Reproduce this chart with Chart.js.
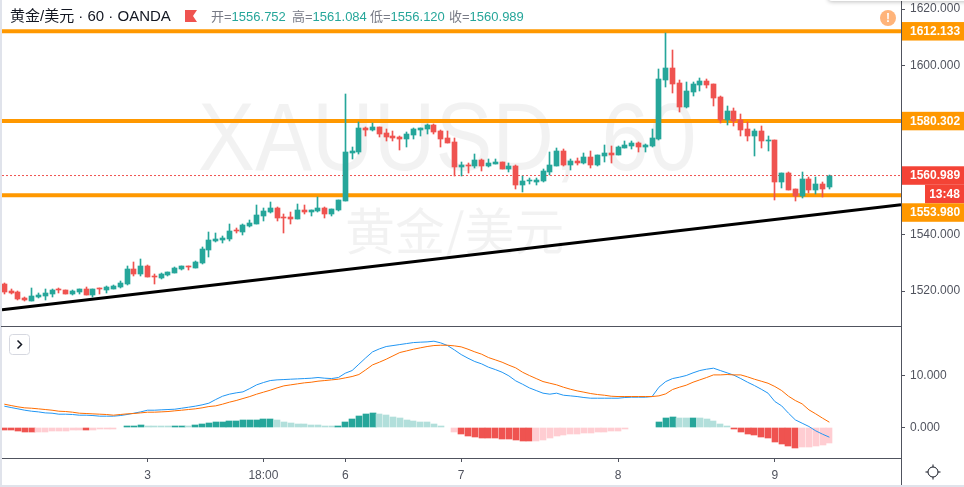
<!DOCTYPE html>
<html>
<head>
<meta charset="utf-8">
<title>XAUUSD 60</title>
<script src="https://cdn.jsdelivr.net/npm/chart.js@4"></script>
<style>
  html, body { margin: 0; padding: 0; background: #fff; }
  body { width: 964px; height: 487px; position: relative; overflow: hidden; font-family: "Liberation Sans", "Noto Sans CJK SC", sans-serif; }
  canvas { position: absolute; left: 0; }
  .abs { position: absolute; white-space: nowrap; }
  .mark { color: rgba(0, 0, 0, 0.05); line-height: 1; }
  .ohlc { top: 9px; font-size: 13px; color: #787b86; line-height: 15px; }
  .ohlc b { font-weight: normal; color: #26a69a; }
</style>
</head>
<body>
<div class="abs mark" style="left:198px;top:89px;font-size:96px;transform:scaleX(0.89);transform-origin:left top;">XAUUSD, 60</div>
<div class="abs mark" style="left:345px;top:203px;font-size:50px;font-family:'Noto Sans CJK SC';">黄金/美元</div>

<canvas id="priceChart" width="964" height="327" style="top:0"></canvas>
<canvas id="macdChart" width="964" height="160" style="top:327px"></canvas>

<div class="abs" style="left:0;top:0;width:2px;height:487px;background:#e0e3eb"></div>
<div class="abs" style="left:0;top:485px;width:964px;height:2px;background:#e0e3eb"></div>
<div class="abs" style="left:1px;top:326px;width:901px;height:1px;background:#50535e"></div>
<div class="abs" style="left:901px;top:458px;width:1px;height:27px;background:#50535e"></div>
<div class="abs" style="left:828px;top:-9px;width:150px;height:10px;background:#fff;border-radius:4px;box-shadow:0 1px 4px rgba(0,0,0,0.25)"></div>

<div class="abs" style="left:10px;top:7px;font-size:15px;line-height:18px;color:#131722;">黄金/美元 · 60 · OANDA</div>
<svg class="abs" style="left:185px;top:10px" width="13" height="13"><polygon points="0,0 12,0 8,6 12,12 0,12" fill="#ef5350"/></svg>
<div class="abs ohlc" style="left:211px">开=<b>1556.752</b></div>
<div class="abs ohlc" style="left:292px">高=<b>1561.084</b></div>
<div class="abs ohlc" style="left:370px">低=<b>1556.120</b></div>
<div class="abs ohlc" style="left:449px">收=<b>1560.989</b></div>

<div class="abs" style="left:880px;top:10px;width:16px;height:16px;border-radius:50%;background:#ffb47a;color:#fff;font-size:12px;font-weight:bold;line-height:16px;text-align:center;">!</div>

<svg class="abs" style="left:9px;top:334px" width="21" height="21">
  <rect x="0.5" y="0.5" width="20" height="20" rx="3" fill="#fff" stroke="#d6d8e0"/>
  <path d="M8.5 6.5 L12.5 10.5 L8.5 14.5" fill="none" stroke="#131722" stroke-width="1.5"/>
</svg>
<svg class="abs" style="left:925px;top:464px" width="16" height="16">
  <circle cx="8" cy="8" r="5" fill="none" stroke="#131722" stroke-width="1"/>
  <path d="M8 0.5V3M8 13V15.5M0.5 8H3M13 8H15.5" stroke="#131722" stroke-width="1"/>
</svg>

<script>
// Price candles
const opens = [
  1522.6,1520.2,1519.8,1517.7,1516.6,1518.0,1518.4,1519.1,1520.6,1520.5,
  1519.1,1519.8,1520.9,1518.7,1521.0,1520.5,1520.9,1521.6,1522.6,1528.0,
  1526.2,1529.0,1525.5,1524.8,1525.8,1526.5,1528.0,1529.0,1528.3,1530.1,
  1534.7,1537.9,1538.3,1538.6,1541.6,1541.1,1543.2,1543.9,1546.7,1548.1,
  1549.5,1546.4,1546.4,1545.7,1548.8,1548.2,1548.5,1549.5,1547.4,1548.8,
  1552.0,1569.0,1569.4,1577.8,1577.1,1578.2,1576.1,1575.0,1574.7,1574.0,
  1575.4,1577.1,1577.5,1578.9,1576.8,1574.3,1572.9,1564.1,1564.9,1564.4,
  1566.5,1564.4,1565.1,1565.8,1563.4,1564.4,1557.7,1559.0,1558.7,1559.1,
  1562.3,1564.4,1569.7,1564.8,1566.2,1565.5,1567.6,1564.8,1568.0,1569.0,
  1568.3,1570.8,1571.5,1572.6,1571.1,1571.5,1573.9,1594.8,1599.1,1593.8,
  1585.3,1590.6,1593.1,1594.5,1593.4,1588.8,1580.7,1583.9,1580.7,1577.5,
  1575.0,1576.8,1573.4,1573.6,1558.8,1561.9,1556.3,1553.8,1559.8,1555.9,1558.0,1556.752
];
const highs = [
  1522.9,1520.9,1520.2,1518.0,1521.2,1519.5,1520.9,1520.9,1521.2,1520.5,
  1520.5,1520.9,1521.6,1520.9,1521.2,1521.7,1522.2,1523.7,1529.0,1530.4,
  1531.5,1529.4,1526.2,1526.5,1526.9,1528.7,1529.0,1529.0,1530.8,1535.7,
  1541.1,1540.7,1539.6,1543.9,1542.5,1543.9,1545.3,1550.6,1549.5,1551.7,
  1549.9,1547.4,1548.1,1551.0,1550.6,1548.8,1553.4,1549.9,1549.2,1552.4,
  1589.9,1571.1,1580.0,1578.2,1579.6,1578.2,1577.5,1576.8,1575.0,1576.5,
  1577.9,1577.9,1579.3,1579.3,1577.2,1576.8,1574.3,1565.8,1565.5,1568.7,
  1566.9,1566.9,1566.9,1565.8,1565.5,1564.8,1560.9,1560.2,1560.2,1563.4,
  1569.4,1570.8,1570.4,1566.9,1567.2,1569.0,1569.7,1568.3,1571.8,1571.5,
  1571.5,1573.2,1573.2,1572.9,1572.2,1577.5,1598.7,1611.5,1605.5,1594.8,
  1594.1,1594.1,1595.5,1595.2,1593.4,1589.2,1585.7,1584.9,1582.8,1580.0,
  1577.5,1578.5,1575.0,1573.6,1561.9,1562.3,1556.3,1562.3,1560.5,1560.5,1558.8,1561.084
];
const lows = [
  1519.1,1519.0,1517.0,1516.6,1516.6,1517.7,1517.0,1518.0,1519.5,1519.1,
  1518.7,1519.1,1518.7,1518.0,1519.1,1519.5,1520.9,1521.2,1522.3,1525.5,
  1525.5,1524.9,1522.6,1524.4,1525.2,1526.5,1527.6,1527.6,1528.3,1529.7,
  1532.2,1537.5,1537.2,1537.9,1540.7,1540.0,1542.8,1543.9,1544.9,1547.8,
  1544.9,1540.7,1543.9,1545.7,1547.4,1546.7,1548.1,1546.0,1546.7,1548.5,
  1552.0,1566.9,1568.6,1575.0,1576.8,1574.7,1573.2,1573.2,1570.1,1571.1,
  1574.0,1575.0,1575.7,1575.7,1571.1,1572.6,1560.9,1560.9,1561.9,1563.7,
  1562.6,1564.1,1565.1,1563.4,1562.3,1556.3,1555.2,1558.0,1557.7,1558.7,
  1561.2,1564.4,1564.4,1563.0,1564.8,1565.1,1563.7,1564.4,1565.8,1565.5,
  1568.3,1570.8,1570.4,1569.4,1569.4,1571.1,1573.6,1592.4,1590.2,1583.5,
  1584.9,1589.2,1590.9,1592.0,1585.7,1579.6,1578.9,1578.5,1575.0,1573.2,
  1567.9,1570.8,1569.7,1552.4,1556.6,1555.9,1552.0,1553.1,1554.8,1554.5,1553.4,1556.120
];
const closes = [
  1519.8,1519.3,1517.3,1516.7,1518.4,1518.7,1519.5,1520.5,1520.3,1519.1,
  1520.2,1520.8,1518.7,1520.9,1520.8,1521.3,1521.8,1523.0,1528.0,1526.2,
  1529.0,1525.1,1524.9,1526.2,1526.9,1528.3,1529.0,1528.4,1530.4,1535.0,
  1538.2,1538.6,1539.0,1541.4,1541.3,1543.5,1544.2,1547.1,1548.5,1549.5,
  1546.0,1546.0,1545.7,1548.8,1548.2,1548.8,1549.5,1547.4,1549.2,1552.4,
  1569.4,1569.7,1577.8,1577.3,1578.2,1575.7,1574.7,1574.3,1574.0,1575.7,
  1577.5,1577.9,1578.9,1576.5,1574.0,1572.6,1564.1,1564.8,1564.5,1566.5,
  1564.4,1565.5,1565.8,1563.4,1564.4,1557.7,1559.1,1559.3,1559.4,1562.6,
  1564.8,1569.7,1564.8,1566.2,1565.5,1567.6,1564.8,1568.3,1569.0,1568.3,
  1571.1,1571.8,1572.7,1571.1,1571.8,1574.3,1595.2,1599.1,1593.4,1585.3,
  1590.9,1593.4,1594.5,1593.1,1588.5,1580.7,1583.9,1580.3,1577.1,1575.0,
  1576.8,1573.2,1573.6,1558.8,1561.9,1555.9,1553.8,1559.8,1555.9,1558.0,1556.3,1560.989
];

// MACD pane
const macdLine = [
  4.09,3.83,3.58,3.32,3.13,3.0,2.81,2.75,2.56,2.56,
  2.5,2.37,2.37,2.3,2.18,2.18,2.18,2.3,2.5,2.75,
  3.0,3.32,3.32,3.39,3.45,3.51,3.7,3.89,4.09,4.34,
  4.66,5.36,5.99,6.38,6.63,6.82,7.46,8.16,8.6,8.98,
  9.11,9.17,9.24,9.3,9.36,9.43,9.56,9.43,9.36,9.56,
  10.38,10.89,12.1,13.31,14.45,15.02,15.47,15.66,15.85,16.04,
  16.23,16.3,16.36,16.49,16.17,15.66,14.83,13.94,13.24,12.61,
  12.16,11.53,11.08,10.57,9.87,8.92,8.28,7.58,7.07,6.57,
  6.38,6.57,6.18,6.06,5.93,5.74,5.61,5.61,5.61,5.61,
  5.61,5.74,5.8,5.8,5.8,5.93,7.71,8.79,9.36,9.62,
  9.94,10.45,10.89,11.15,11.34,10.89,10.45,10.0,9.36,8.66,
  8.03,7.33,6.57,4.98,4.15,2.75,1.48,0.84,0.21,-0.62,-1.26,-1.83
];
const signalLine = [
  4.47,4.21,3.96,3.77,3.7,3.58,3.45,3.32,3.13,3.07,
  2.94,2.75,2.69,2.62,2.56,2.5,2.37,2.5,2.62,2.69,
  2.81,2.94,2.94,3.0,3.07,3.2,3.32,3.45,3.58,3.77,
  4.02,4.15,4.47,4.85,5.17,5.55,5.93,6.38,6.76,7.14,
  7.58,7.97,8.16,8.35,8.54,8.66,8.86,8.98,9.11,9.24,
  9.49,9.75,10.13,11.02,11.97,12.48,13.05,13.69,14.33,14.64,
  14.96,15.22,15.47,15.66,15.72,15.72,15.6,15.41,14.96,14.45,
  14.01,13.37,12.93,12.48,11.91,11.4,10.57,9.94,9.36,8.79,
  8.47,8.16,7.71,7.33,7.01,6.76,6.5,6.31,6.18,5.99,
  5.93,5.93,5.93,5.93,5.93,5.93,6.06,6.44,7.27,7.71,
  8.09,8.66,9.11,9.56,10.06,10.06,10.13,10.06,10.06,9.68,
  9.24,8.86,8.47,7.84,7.07,5.99,5.17,4.53,3.39,2.62,1.8,1.03
];
const histogram = [
  -0.44,-0.46,-0.64,-0.76,-0.77,-0.76,-0.75,-0.66,-0.64,-0.62,
  -0.46,-0.44,-0.45,-0.38,-0.32,-0.25,-0.19,null,0.13,0.32,
  0.51,0.32,0.31,0.3,0.29,0.31,0.33,0.32,0.51,0.7,
  0.89,1.08,1.09,1.27,1.28,1.46,1.47,1.48,1.65,1.66,
  1.4,1.14,0.95,0.7,0.69,0.51,0.5,0.32,0.31,0.38,
  1.14,1.72,2.23,2.61,2.8,2.61,2.42,2.04,1.84,1.53,
  1.27,1.14,1.13,0.76,0.32,null,-0.76,-1.14,-1.53,-1.72,
  -1.97,-1.98,-1.99,-2.1,-2.11,-2.29,-2.48,-2.49,-2.48,-2.29,
  -1.91,-1.53,-1.34,-1.14,-1.13,-0.95,-0.94,-0.89,-0.76,-0.57,
  -0.56,-0.32,null,null,null,null,1.08,1.78,2.04,1.84,
  1.83,1.85,1.84,1.65,1.27,0.7,0.13,-0.19,-0.76,-1.14,
  -1.34,-1.72,-1.91,-2.67,-3.05,-3.5,-3.82,-3.63,-3.62,-3.43,-3.24,-2.86
];

// Drawn lines and axis labels
const levels = [1612.133, 1580.302, 1553.98];
const lastPrice = 1560.989;
const countdown = '13:48';
const trendBars = [-0.34, 131.5];
const trendPrices = [1513.4, 1550.6];
const priceTicks = [1620, 1600, 1540, 1520];
const macdTicks = [10, 0];
const timeTickBars = [21, 38, 50, 67, 90, 113];
const timeTickLabels = ['3', '18:00', '6', '7', '8', '9'];

const GREEN = '#26a69a';
const RED = '#ef5350';
const AXIS = '#50535e';
const TICK_FONT = { family: '"Liberation Sans", sans-serif', size: 12 };
const X_MIN = trendBars[0];
const X_MAX = trendBars[1];

// candles and hist bars come out blurry on fractional pixels, so snap them
const snapBars = {
  id: 'snapBars',
  afterDatasetsUpdate(chart) {
    chart.getSortedVisibleDatasetMetas().forEach((meta) => {
      if (meta.type !== 'bar') return;
      meta.data.forEach((el) => {
        el.x = el.width % 2 ? Math.floor(el.x) + 0.5 : Math.round(el.x);
        el.y = Math.round(el.y);
        el.base = Math.round(el.base);
        if (el.y === el.base) el.y = el.base - 1;
      });
    });
  },
};

// price tags on the right axis, pushed down when they would overlap
const priceTags = {
  id: 'priceTags',
  afterDraw(chart) {
    const { ctx, chartArea } = chart;
    const yScale = chart.scales.y;
    const tagH = 18.5;
    const left = chartArea.right + 1;
    const tags = levels.map((v) => ({ value: v, color: '#ff9800' }));
    tags.push({ value: lastPrice, color: '#f44336', extra: countdown });
    tags.sort((a, b) => b.value - a.value);

    ctx.save();
    ctx.font = `bold ${TICK_FONT.size}px ${TICK_FONT.family}`;
    ctx.textBaseline = 'middle';
    let nextFree = -Infinity;
    tags.forEach((tag) => {
      const y = Math.max(yScale.getPixelForValue(tag.value), nextFree + tagH / 2);
      ctx.fillStyle = tag.color;
      ctx.fillRect(left, y - tagH / 2, chart.width - left, tagH);
      ctx.fillStyle = '#fff';
      ctx.textAlign = 'left';
      ctx.fillText(tag.value.toFixed(3), left + 8, y + 0.5);
      nextFree = y + tagH / 2;
      if (tag.extra) {
        ctx.fillStyle = tag.color;
        ctx.fillRect(925, nextFree, chart.width - 925, tagH);
        ctx.fillStyle = '#fff';
        ctx.textAlign = 'center';
        ctx.fillText(tag.extra, 944.5, nextFree + tagH / 2 + 0.5);
        nextFree += tagH;
      }
    });
    ctx.restore();
  },
};

function fixedTicks(values) {
  return (scale) => {
    scale.ticks = values.map((value) => ({ value }));
  };
}

function baseOptions() {
  return {
    responsive: false,
    animation: false,
    events: [],
    layout: { padding: { left: 2, top: 0, right: 0, bottom: 0 } },
    plugins: { legend: { display: false }, tooltip: { enabled: false } },
  };
}

function yAxis(min, max, ticks) {
  return {
    position: 'right',
    min,
    max,
    afterBuildTicks: fixedTicks(ticks),
    afterFit(scale) {
      scale.width = 63;
      // no room reserved for the edge labels, the pane runs to the canvas edge
      scale.paddingTop = 0;
      scale.paddingBottom = 0;
    },
    border: { color: AXIS },
    grid: { drawOnChartArea: false, color: AXIS, tickLength: 4 },
    ticks: {
      color: AXIS,
      font: TICK_FONT,
      padding: 5,
      autoSkip: false,
      callback: (v) => Number(v).toFixed(3),
    },
  };
}

function buildPriceChart() {
  const wicks = lows.map((low, i) => ({ x: i, y: [low, highs[i]] }));
  const bodies = opens.map((open, i) => ({
    x: i,
    y: [Math.min(open, closes[i]), Math.max(open, closes[i])],
  }));
  const candleColors = opens.map((open, i) => (closes[i] >= open ? GREEN : RED));

  const levelSets = levels.map((level) => ({
    type: 'line',
    data: [{ x: X_MIN, y: level }, { x: X_MAX, y: level }],
    borderColor: '#ff9800',
    borderWidth: 4,
    pointRadius: 0,
    order: 6,
  }));

  new Chart(document.getElementById('priceChart'), {
    type: 'bar',
    data: {
      datasets: [
        { data: wicks, backgroundColor: candleColors, barThickness: 1, grouped: false, order: 4 },
        { data: bodies, backgroundColor: candleColors, barThickness: 5, grouped: false, order: 3 },
        ...levelSets,
        {
          type: 'line',
          data: [{ x: X_MIN, y: lastPrice }, { x: X_MAX, y: lastPrice }],
          borderColor: RED,
          borderWidth: 1,
          borderDash: [2, 2],
          pointRadius: 0,
          order: 5,
        },
        {
          type: 'line',
          data: trendBars.map((x, i) => ({ x, y: trendPrices[i] })),
          borderColor: '#000',
          borderWidth: 3,
          pointRadius: 0,
          order: 1,
        },
      ],
    },
    options: {
      ...baseOptions(),
      scales: {
        x: { type: 'linear', display: false, offset: false, min: X_MIN, max: X_MAX },
        y: yAxis(1507.28, 1623.23, priceTicks),
      },
    },
    plugins: [snapBars, priceTags],
  });
}

function buildMacdChart() {
  const histColors = histogram.map((v, i) => {
    const prev = i > 0 ? histogram[i - 1] : null;
    const rising = prev === null || v >= prev;
    if (v >= 0) return rising ? GREEN : '#b2dfdb';
    return !rising || i === 0 ? RED : '#ffcdd2';
  });
  const line = (values, color, order) => ({
    type: 'line',
    data: values.map((y, x) => ({ x, y })),
    borderColor: color,
    borderWidth: 1,
    pointRadius: 0,
    order,
  });

  new Chart(document.getElementById('macdChart'), {
    type: 'bar',
    data: {
      datasets: [
        {
          data: histogram.map((y, x) => ({ x, y })),
          backgroundColor: histColors,
          barThickness: 6,
          grouped: false,
          order: 3,
        },
        line(macdLine, '#2196f3', 2),
        line(signalLine, '#ff6d00', 1),
      ],
    },
    options: {
      ...baseOptions(),
      scales: {
        x: {
          type: 'linear',
          offset: false,
          min: X_MIN,
          max: X_MAX,
          afterBuildTicks: fixedTicks(timeTickBars),
          afterFit(scale) {
            scale.height = 29;
            scale.paddingLeft = 0;
            scale.paddingRight = 0;
          },
          border: { color: AXIS },
          grid: { drawOnChartArea: false, color: AXIS, tickLength: 4, offset: false },
          ticks: {
            color: AXIS,
            font: TICK_FONT,
            padding: 6,
            autoSkip: false,
            maxRotation: 0,
            callback: (v) => timeTickLabels[timeTickBars.indexOf(v)],
          },
        },
        y: yAxis(-5.8, 19.2, macdTicks),
      },
    },
    plugins: [snapBars],
  });
}

buildPriceChart();
buildMacdChart();
</script>
</body>
</html>
